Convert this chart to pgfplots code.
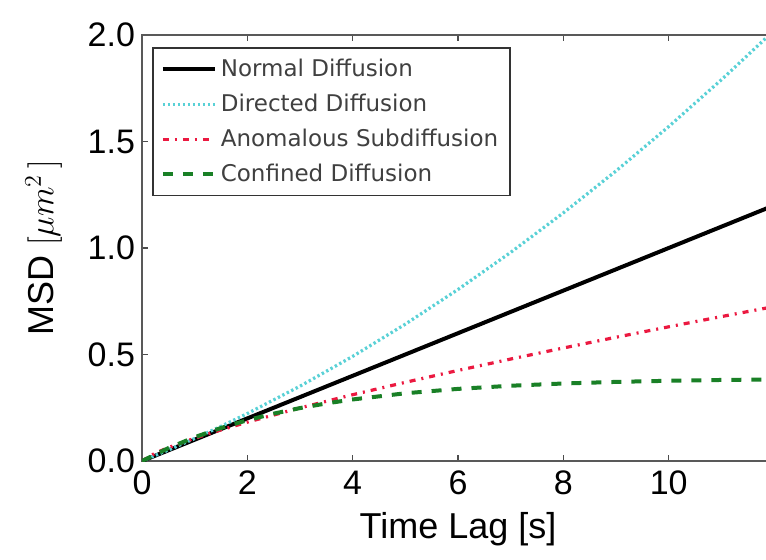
\documentclass[border=0pt]{standalone}
\usepackage{pgfplots}
\pgfplotsset{compat=1.18}
\usepackage{fontspec}
\setmainfont{Liberation Sans}
\newfontfamily\legfont{DejaVu Sans}
\definecolor{cy}{rgb}{0.35,0.82,0.84}
\definecolor{rd}{rgb}{0.92,0.1,0.25}
\definecolor{gr}{rgb}{0.1,0.5,0.15}
\begin{document}
\begin{tikzpicture}
\useasboundingbox (-71pt,-49pt) rectangle (312pt,230.5pt);
\begin{axis}[
  at={(0,0)}, anchor=south west,
  scale only axis, width=316pt, height=213pt,
  xmin=0, xmax=12, ymin=0, ymax=2,
  xtick={0,2,...,10}, ytick={0,0.5,...,2},
  yticklabel style={/pgf/number format/.cd, fixed, fixed zerofill, precision=1},
  /pgf/number format/assume math mode=true,
  ticklabel style={font=\fontsize{17}{17}\selectfont},
  xticklabel style={yshift=-1.5pt},
  label style={font=\fontsize{18}{18}\selectfont},
  xlabel={Time Lag [s]}, ylabel={MSD $[\mu m^2\,]$},
  xlabel style={yshift=-2pt},
  ylabel style={yshift=6pt},
  tick align=inside, major tick length=3pt,
  tick style={gray!60!black, line width=0.6pt},
  axis line style={gray!70!black, line width=1.2pt},
  legend style={at={(0,1)}, anchor=north west, xshift=5pt, yshift=-6pt,
    font=\legfont\fontsize{11.5}{13}\selectfont, draw=black!80, line width=0.8pt,
    text=black!75, row sep=3.3pt, inner xsep=4pt, inner ysep=3.5pt},
  legend cell align=left,
  legend image code/.code={\draw[#1] (0pt,0pt) -- (26pt,0pt);},
]
\addplot[black, line width=2pt] coordinates {(0,0) (12,1.2)};
\addlegendentry{Normal Diffusion}
\addplot[cy, line width=1.6pt, dash pattern=on 1.2pt off 1.3pt] coordinates {
(0,0) (0.5,0.0514) (1,0.1057) (1.5,0.1628) (2,0.2228) (3,0.3513) (4,0.4912) (5,0.6425) (6,0.8052)
(7,0.9793) (8,1.1648) (9,1.3617) (10,1.57) (11,1.7897) (12,2.0208)};
\addlegendentry{Directed Diffusion}
\addplot[rd, line width=1.6pt, dash pattern=on 3pt off 3pt on 1pt off 3pt] coordinates {
(0,0) (0.25,0.0368) (0.5,0.0628) (1,0.107) (1.5,0.146) (2,0.1824) (3,0.2493) (4,0.3112) (5,0.3695) (6,0.4252)
(7,0.4787) (8,0.5306) (9,0.581) (10,0.630) (11,0.678) (12,0.725)};
\addlegendentry{Anomalous Subdiffusion}
\addplot[gr, line width=2pt, dash pattern=on 5pt off 5pt] coordinates {
(0,0) (0.5,0.0606) (1,0.1118) (1.5,0.1551) (2,0.1916) (2.5,0.2224) (3,0.2485) (3.5,0.2704) (4,0.289)
(5,0.318) (6,0.3386) (7,0.3534) (8,0.3639) (9,0.3714) (10,0.3767) (11,0.3805) (12,0.3832)};
\addlegendentry{Confined Diffusion}
\end{axis}
\end{tikzpicture}
\end{document}
